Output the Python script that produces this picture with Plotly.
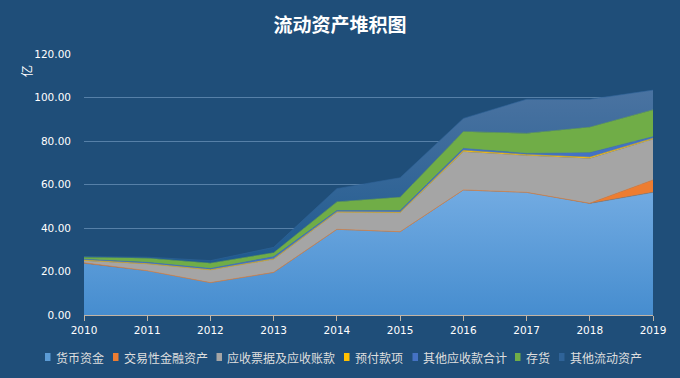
import plotly.graph_objects as go

years = [2010, 2011, 2012, 2013, 2014, 2015, 2016, 2017, 2018, 2019]
series_names = ["货币资金", "交易性金融资产", "应收票据及应收账款", "预付款项", "其他应收款合计", "存货", "其他流动资产"]
cash = [23.8, 20.4, 14.9, 19.6, 39.4, 38.3, 57.5, 56.4, 51.3, 56.4]
trading = [0.2, 0.0, 0.0, 0.0, 0.0, 0.0, 0.0, 0.0, 0.1, 5.7]
receivables = [1.0, 3.0, 5.8, 6.0, 7.8, 8.7, 17.6, 16.9, 20.6, 18.7]
prepaid = [0.3, 0.2, 0.1, 0.2, 0.2, 0.2, 0.5, 0.4, 0.5, 0.4]
other_recv = [0.3, 0.6, 0.6, 1.0, 0.6, 0.8, 1.0, 0.6, 2.1, 0.8]
inventory = [1.0, 1.9, 2.4, 1.8, 4.0, 6.1, 7.7, 9.2, 11.7, 12.3]
other_current = [0.3, 0.5, 1.2, 2.5, 6.1, 9.0, 6.1, 15.7, 12.9, 9.1]
y_ticks = [0, 20, 40, 60, 80, 100, 120]

data = [cash, trading, receivables, prepaid, other_recv, inventory, other_current]
colors = ["#5b9bd5", "#ed7d31", "#a5a5a5", "#ffc000", "#4472c4", "#70ad47", "#2f6398"]
edges = ["#7f7f7f", "#ed7d31", "#9a9a9a", "#ffc000", "#4472c4", "#70ad47", "#2f6398"]

# plot area in pixels
L, R, T, B = 84, 653, 54, 315
W, H = R - L, B - T

fig = go.Figure()
for i, (name, vals) in enumerate(zip(series_names, data)):
    kw = {}
    if i == 0:
        kw["fillgradient"] = dict(type="vertical",
                                  colorscale=[[0, "#468dcf"], [1, "#72abe2"]])
    elif i == 6:
        kw["fillgradient"] = dict(type="vertical",
                                  colorscale=[[0, "#1f5a8f"], [1, "#4a73a1"]])
    fig.add_trace(go.Scatter(
        x=years, y=vals, name=name, mode="lines",
        stackgroup="one", fillcolor=colors[i],
        line=dict(color=edges[i], width=0.6),
        showlegend=False,
        **kw,
    ))

# custom compact legend (square + text), laid out left to right
legend_x = [45, 113, 216.5, 344, 412.5, 515, 559]
legend_y = 357
shapes, annotations = [], []
for i, name in enumerate(series_names):
    x0 = legend_x[i]
    shapes.append(dict(type="rect", xref="paper", yref="paper",
                       x0=(x0 - L) / W, x1=(x0 + 5.5 - L) / W,
                       y0=(B - (legend_y + 4)) / H, y1=(B - (legend_y - 4)) / H,
                       fillcolor=colors[i], line=dict(width=0)))
    annotations.append(dict(text=name, xref="paper", yref="paper",
                            x=(x0 + 8.5 - L) / W, y=(B - legend_y) / H,
                            xanchor="left", yanchor="middle", showarrow=False,
                            font=dict(size=12, color="#dedede")))

annotations.append(dict(text="亿", xref="paper", yref="paper",
                        x=(26 - L) / W, y=(B - 71) / H, xanchor="center", yanchor="middle",
                        showarrow=False, textangle=-90, font=dict(size=12, color="#ffffff")))

fig.update_layout(
    width=680, height=378,
    paper_bgcolor="#1f4e79", plot_bgcolor="#1f4e79",
    margin=dict(l=L, r=680 - R, t=T, b=378 - B, autoexpand=False),
    font=dict(family="Noto Sans CJK SC, Noto Sans, sans-serif", color="#ffffff", size=11),
    title=dict(text="<b>流动资产堆积图</b>", x=0.5, xref="container", xanchor="center",
               y=1 - 25 / 378, yanchor="middle", yref="container",
               font=dict(size=19, color="#ffffff")),
    showlegend=False,
    xaxis=dict(range=[2010, 2019], tickvals=years, ticktext=[str(y) for y in years],
               showgrid=False, zeroline=False, showline=True, linecolor="#c2b4a4",
               linewidth=1, ticks="outside", ticklen=5, tickcolor="#c2b4a4",
               tickangle=0, automargin=False,
               tickfont=dict(family="DejaVu Sans, sans-serif", size=10.5, color="#ffffff")),
    yaxis=dict(range=[0, 120], tickvals=y_ticks, tickformat=".2f",
               showgrid=True, gridcolor="#5680a8", gridwidth=1, zeroline=False,
               showline=False, ticks="", automargin=False, ticklabelstandoff=12,
               tickfont=dict(family="DejaVu Sans, sans-serif", size=10.5, color="#ffffff")),
    shapes=shapes,
    annotations=annotations,
)

fig.write_html("out.html", config={"displayModeBar": False},
               post_script="document.body.style.margin='0';document.body.style.background='#1f4e79';")
